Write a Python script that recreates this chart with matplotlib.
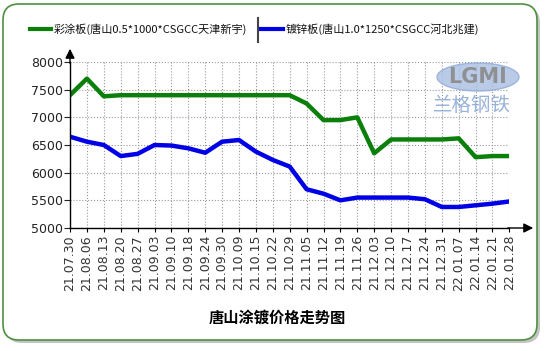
import matplotlib
matplotlib.use('Agg')
import matplotlib.pyplot as plt
from matplotlib.patches import FancyBboxPatch, Ellipse

dates = ['21.07.30', '21.08.06', '21.08.13', '21.08.20', '21.08.27', '21.09.03', '21.09.10',
         '21.09.18', '21.09.24', '21.09.30', '21.10.09', '21.10.15', '21.10.22', '21.10.29',
         '21.11.05', '21.11.12', '21.11.19', '21.11.26', '21.12.03', '21.12.10', '21.12.17',
         '21.12.24', '21.12.31', '22.01.07', '22.01.14', '22.01.21', '22.01.28']
caitu = [7400, 7700, 7380, 7400, 7400, 7400, 7400, 7400, 7400, 7400, 7400, 7400, 7400, 7400,
         7250, 6950, 6950, 7000, 6350, 6600, 6600, 6600, 6600, 6620, 6280, 6300, 6300]
duxin = [6650, 6560, 6500, 6300, 6340, 6500, 6490, 6440, 6360, 6560, 6590, 6380, 6230, 6110,
         5700, 5620, 5500, 5550, 5550, 5550, 5550, 5520, 5380, 5380, 5410, 5440, 5480]
name1 = '彩涂板(唐山0.5*1000*CSGCC天津新宇)'
name2 = '镀锌板(唐山1.0*1250*CSGCC河北兆建)'
title = '唐山涂镀价格走势图'

cjk = ['Noto Sans CJK SC', 'DejaVu Sans']
W, H = 551, 351
fig = plt.figure(figsize=(W / 100, H / 100), dpi=100)
fig.patch.set_facecolor('white')

# rounded frame with shadow
px = fig.dpi_scale_trans
shadow = FancyBboxPatch((6 / 100, (H - 343) / 100), 534 / 100, 336 / 100,
                        boxstyle='round,pad=0,rounding_size=0.16', transform=px,
                        facecolor='#c4c4c4', edgecolor='none', zorder=0)
frame = FancyBboxPatch((3 / 100, (H - 340) / 100), 534 / 100, 336 / 100,
                       boxstyle='round,pad=0,rounding_size=0.16', transform=px,
                       facecolor='white', edgecolor='#4f8f3f', linewidth=1.2, zorder=1)
fig.add_artist(shadow)
fig.add_artist(frame)

ax = fig.add_axes([70 / W, 1 - 228 / H, 439.4 / W, 166 / H])
ax.set_facecolor('none')
ax.set_zorder(2)
x = list(range(len(dates)))
ax.plot(x, caitu, color='#0a800a', lw=3.2, solid_joinstyle='round', solid_capstyle='round')
ax.plot(x, duxin, color='#0000e6', lw=3.2, solid_joinstyle='round', solid_capstyle='round')
ax.set_xlim(0, len(dates) - 1)
ax.set_ylim(5000, 8000)
ax.set_yticks(range(5000, 8001, 500))
ax.set_xticks(x)
ax.set_xticklabels(dates, rotation=90, fontsize=9, color='#333333')
ax.tick_params(axis='y', labelsize=9, length=4, pad=1, colors='#222222')
ax.tick_params(axis='x', length=3, pad=2)
ax.grid(True, linestyle=':', color='#999999', linewidth=0.8)
for s in ['top', 'right']:
    ax.spines[s].set_visible(False)
for s in ['left', 'bottom']:
    ax.spines[s].set_linewidth(1.0)

# axis arrows
ax.annotate('', xy=(536, H - 228), xytext=(505, H - 228), xycoords='figure pixels',
            arrowprops=dict(arrowstyle='-|>', color='black', lw=1, mutation_scale=14))
ax.annotate('', xy=(70, H - 46), xytext=(70, H - 66), xycoords='figure pixels',
            arrowprops=dict(arrowstyle='-|>', color='black', lw=1, mutation_scale=14))

# legend
fig.add_artist(plt.Line2D([30 / W, 51 / W], [1 - 29 / H] * 2, color='#0a800a', lw=3))
fig.text(54 / W, 1 - 29 / H, name1, fontsize=8, family=cjk, va='center', color='#111111')
fig.add_artist(plt.Line2D([258 / W] * 2, [1 - 18 / H, 1 - 42 / H], color='#444444', lw=1.5))
fig.add_artist(plt.Line2D([261 / W, 283 / W], [1 - 29 / H] * 2, color='#0000e6', lw=3))
fig.text(286 / W, 1 - 29 / H, name2, fontsize=8, family=cjk, va='center', color='#111111')

# watermark
fig.add_artist(Ellipse((478 / W, 1 - 77 / H), 82 / W, 28 / H, transform=fig.transFigure,
                       facecolor='#a9bfe3', edgecolor='#8fa9d6', alpha=0.8, zorder=3))
fig.text(478 / W, 1 - 77 / H, 'LGMI', fontsize=15, fontweight='bold', color='#8a8a8a',
         ha='center', va='center', zorder=4, alpha=0.9)
fig.text(472 / W, 1 - 105 / H, '兰格钢铁', fontsize=14, family=cjk, color='#7f9fd0',
         ha='center', va='center', zorder=4, alpha=0.8)

fig.text(277 / W, 1 - 318 / H, title, fontsize=11, family=cjk, fontweight='bold',
         ha='center', va='center', color='black')

fig.savefig('out.png', dpi=100)
